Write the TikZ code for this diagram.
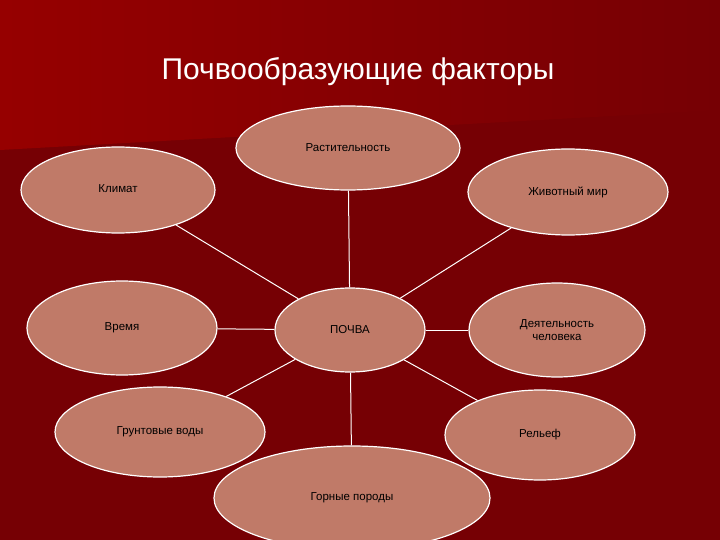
\documentclass[tikz,border=0pt]{standalone}
\usepackage{fontspec}
\setmainfont{Liberation Sans}
\definecolor{bg}{RGB}{118,0,4}
\definecolor{bglight}{RGB}{150,0,0}
\definecolor{ell}{RGB}{192,122,104}
\tikzset{
  fac/.style={ellipse, draw=white, line width=1.2pt, fill=ell, font=\fontsize{11.5}{13}\selectfont, align=center, inner sep=0pt},
  con/.style={draw=white, line width=1pt}
}
\usetikzlibrary{shapes.geometric}
\begin{document}
\begin{tikzpicture}[x=1pt,y=-1pt]
\fill[bg] (0,0) rectangle (720,540);
\shade[left color=bglight, right color=bg] (0,0) -- (720,0) -- (720,110) -- (0,150) -- cycle;
\useasboundingbox (0,0) rectangle (720,540);
\node[text=white, font=\fontsize{30}{34}\selectfont] (title) at (358,72) {Почвообразующие факторы};
\node[fac, minimum width=224, minimum height=84] (rast) at (348,148) {\raisebox{-8pt}{Растительность}};
\node[fac, minimum width=194, minimum height=86] (klim) at (118,190) {\raisebox{3pt}{Климат}};
\node[fac, minimum width=200, minimum height=86] (zhiv) at (568,192) {Животный мир};
\node[fac, minimum width=190, minimum height=94] (vrem) at (122,328) {Время};
\node[fac, minimum width=150, minimum height=84] (pochva) at (350,330) {ПОЧВА};
\node[fac, minimum width=176, minimum height=94] (deyat) at (557,330) {Деятельность\\человека};
\node[fac, minimum width=210, minimum height=90] (grunt) at (160,432) {Грунтовые воды};
\node[fac, minimum width=190, minimum height=90] (relef) at (540,435) {Рельеф};
\node[fac, minimum width=276, minimum height=104] (gorn) at (352,498) {\raisebox{0pt}{Горные породы}};
\draw[con] (pochva) -- (rast);
\draw[con] (pochva) -- (klim);
\draw[con] (pochva) -- (zhiv);
\draw[con] (pochva) -- (vrem);
\draw[con] (pochva) -- (deyat);
\draw[con] (pochva) -- (grunt);
\draw[con] (pochva) -- (relef);
\draw[con] (pochva) -- (gorn);
\end{tikzpicture}
\end{document}
